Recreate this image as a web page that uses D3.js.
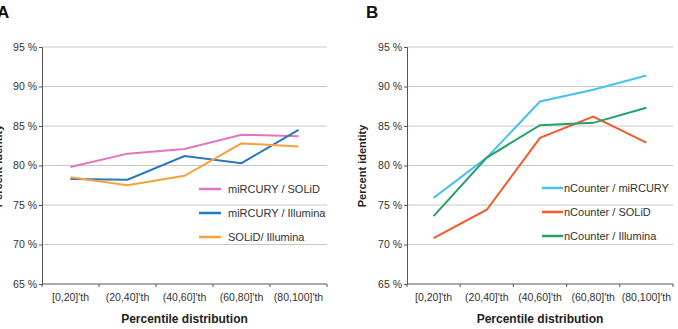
<!DOCTYPE html>
<html>
<head>
<meta charset="utf-8">
<script src="https://cdn.jsdelivr.net/npm/d3@7"></script>
<style>
  body { margin: 0; background: #fff; }
  svg { font-family: "Liberation Sans", Arial, sans-serif; }
  .grid line { stroke: #c8c8c8; }
  .axis path, .axis line { stroke: #555; }
  .axis text { fill: #333; font-size: 10.5px; }
</style>
</head>
<body>
<div id="chart"></div>
<script>
var categories = ["[0,20]'th", "(20,40]'th", "(40,60]'th", "(60,80]'th", "(80,100]'th"];
var yTicks = [65, 70, 75, 80, 85, 90, 95];

var seriesA = ["miRCURY / SOLiD", "miRCURY / Illumina", "SOLiD/ Illumina"];
var mircurySolid = [79.8, 81.5, 82.1, 83.9, 83.7];
var mircuryIllumina = [78.3, 78.2, 81.2, 80.3, 84.5];
var solidIllumina = [78.5, 77.5, 78.7, 82.8, 82.4];

var seriesB = ["nCounter / miRCURY", "nCounter / SOLiD", "nCounter / Illumina"];
var ncounterMircury = [75.9, 81.0, 88.1, 89.6, 91.4];
var ncounterSolid = [70.8, 74.4, 83.5, 86.2, 82.9];
var ncounterIllumina = [73.6, 81.0, 85.1, 85.4, 87.3];

var width = 678, height = 329;

var svg = d3.select('#chart')
    .append('svg')
    .attr('width', width)
    .attr('height', height);

function drawPanel(opts) {
    var x = d3.scaleBand()
        .domain(categories)
        .range([opts.left, opts.right]);

    var y = d3.scaleLinear()
        .domain([65, 95])
        .range([284, 47]);

    var g = svg.append('g');

    // gridlines
    g.append('g')
        .attr('class', 'grid')
        .selectAll('line')
        .data(yTicks.slice(1))
        .enter()
        .append('line')
        .attr('x1', opts.left)
        .attr('x2', opts.right)
        .attr('y1', function (d) { return y(d); })
        .attr('y2', function (d) { return y(d); });

    g.append('g')
        .attr('class', 'axis')
        .attr('transform', 'translate(' + opts.left + ',0)')
        .call(d3.axisLeft(y).tickValues(yTicks).tickSize(3).tickPadding(2)
            .tickFormat(function (d) { return d + ' %'; }));

    var xAxis = g.append('g')
        .attr('class', 'axis')
        .attr('transform', 'translate(0,' + y(65) + ')')
        .call(d3.axisBottom(x).tickSize(0).tickPadding(10));
    xAxis.select('.domain').attr('d', 'M' + opts.left + ',0H' + opts.right);

    // boundary ticks between categories
    xAxis.selectAll('.bound')
        .data(d3.range(categories.length + 1))
        .enter()
        .append('line')
        .attr('class', 'bound')
        .attr('x1', function (i) { return opts.left + i * x.step(); })
        .attr('x2', function (i) { return opts.left + i * x.step(); })
        .attr('y1', 0)
        .attr('y2', 3);

    var line = d3.line()
        .x(function (d, i) { return x(categories[i]) + x.bandwidth() / 2; })
        .y(function (d) { return y(d); });

    opts.data.forEach(function (vals, i) {
        g.append('path')
            .attr('d', line(vals))
            .attr('fill', 'none')
            .attr('stroke', opts.colors[i])
            .attr('stroke-width', 2);
    });

    // legend
    var legend = g.selectAll('.legend')
        .data(opts.names)
        .enter()
        .append('g')
        .attr('class', 'legend')
        .attr('transform', function (d, i) {
            return 'translate(' + opts.legendX + ',' + (opts.legendY + i * 24) + ')';
        });

    legend.append('line')
        .attr('x1', 0)
        .attr('x2', opts.legendLine)
        .attr('stroke', function (d, i) { return opts.colors[i]; })
        .attr('stroke-width', 2.5);

    legend.append('text')
        .attr('x', opts.legendLine + opts.legendGap)
        .attr('y', 4)
        .attr('font-size', 11)
        .attr('fill', '#333')
        .text(function (d) { return d; });

    g.append('text')
        .attr('x', (opts.left + opts.right) / 2)
        .attr('y', 323)
        .attr('text-anchor', 'middle')
        .attr('font-size', 12)
        .attr('font-weight', 'bold')
        .attr('fill', '#222')
        .text('Percentile distribution');

    g.append('text')
        .attr('transform', 'translate(' + opts.titleX + ',166) rotate(-90)')
        .attr('text-anchor', 'middle')
        .attr('font-size', 11)
        .attr('font-weight', 'bold')
        .attr('fill', '#222')
        .text('Percent identity');

    g.append('text')
        .attr('x', opts.labelX)
        .attr('y', 18)
        .attr('font-size', 17)
        .attr('font-weight', 'bold')
        .attr('fill', '#111')
        .text(opts.label);
}

drawPanel({
    left: 42, right: 327,
    data: [mircurySolid, mircuryIllumina, solidIllumina],
    names: seriesA,
    colors: ['#e274c4', '#2777c0', '#f8a03c'],
    legendX: 199, legendY: 189, legendLine: 22, legendGap: 7,
    titleX: 2, labelX: -3, label: 'A'
});

drawPanel({
    left: 407, right: 673,
    data: [ncounterMircury, ncounterSolid, ncounterIllumina],
    names: seriesB,
    colors: ['#45c2ee', '#f4592a', '#22a168'],
    legendX: 542, legendY: 188, legendLine: 21, legendGap: 1,
    titleX: 366, labelX: 366, label: 'B'
});
</script>
</body>
</html>
